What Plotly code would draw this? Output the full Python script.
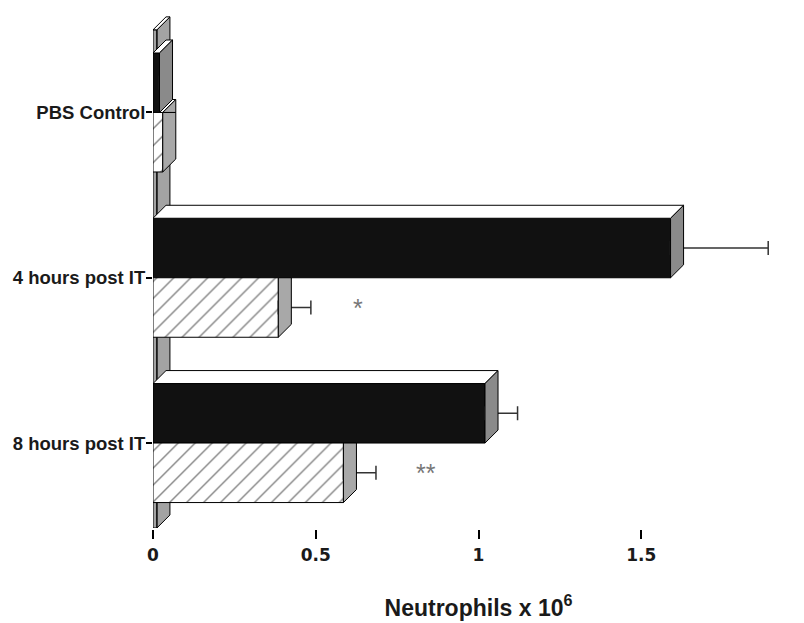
import plotly.graph_objects as go

# ---------------- data ----------------
categories = ["PBS Control", "4 hours post IT", "8 hours post IT"]
black_values = [0.02, 1.59, 1.02]
black_errors = [0.0, 0.30, 0.10]
hatched_values = [0.03, 0.385, 0.585]
hatched_errors = [0.0, 0.10, 0.10]
significance = ["", "*", "**"]
significance_x = [0.0, 0.63, 0.84]
x_ticks = [0, 0.5, 1, 1.5, 2]
x_tick_labels = ["0", "0.5", "1", "1.5", "2"]
x_title = "Neutrophils x 10<sup>6</sup>"

# ---------------- geometry / style ----------------
BAR_W = 0.36          # bar thickness in category units
DX = 0.04             # 3D depth, x data units
DY = 0.0785           # 3D depth, category units
WALL_W = 0.012
Y_TOP = -0.5
Y_BOT = 2.514
FONT = "Liberation Sans, Arial, Helvetica, sans-serif"
SIDE_BLACK = "#8a8a8a"
SIDE_HATCH = "#a8a8a8"
WALL = "#a3a3a3"

pos = list(range(len(categories)))
black_y = [p - BAR_W / 2 for p in pos]
hatched_y = [p + BAR_W / 2 for p in pos]


def poly_trace(polys, fill, z, lw=1, line_color="black"):
    xs, ys = [], []
    for poly in polys:
        for (x, y) in poly:
            xs.append(x)
            ys.append(y)
        xs.append(poly[0][0])
        ys.append(poly[0][1])
        xs.append(None)
        ys.append(None)
    return go.Scatter(x=xs, y=ys, mode="lines", fill="toself", fillcolor=fill,
                      line=dict(color=line_color, width=lw), hoverinfo="skip",
                      showlegend=False, zorder=z)


fig = go.Figure()

# back wall along x = 0
fig.add_trace(poly_trace([
    [(0, Y_BOT), (0, Y_TOP), (WALL_W, Y_TOP), (WALL_W, Y_BOT)],
    [(WALL_W, Y_BOT), (WALL_W, Y_TOP), (WALL_W + DX, Y_TOP - DY), (WALL_W + DX, Y_BOT - DY)],
], WALL, 0))
fig.add_trace(poly_trace([
    [(0, Y_TOP), (WALL_W, Y_TOP), (WALL_W + DX, Y_TOP - DY), (DX, Y_TOP - DY)],
], "white", 0))

# hatched bars: top faces and upper part of side faces (behind black bars)
h_top, h_tri, h_low = [], [], []
for p, v in zip(pos, hatched_values):
    yb = p + BAR_W
    h_top.append([(0, p), (v, p), (v + DX, p - DY), (DX, p - DY)])
    h_tri.append([(v, p), (v + DX, p - DY), (v + DX, p)])
    h_low.append([(v, yb), (v, p), (v + DX, p), (v + DX, yb - DY)])
fig.add_trace(poly_trace(h_top, "white", 1))
fig.add_trace(poly_trace(h_tri, SIDE_HATCH, 1))

# black bars (front faces)
fig.add_trace(go.Bar(
    y=black_y, x=black_values, width=BAR_W, orientation="h",
    marker=dict(color="#111111", line=dict(color="black", width=1)),
    error_x=dict(type="data", array=black_errors, arrayminus=[0] * len(pos),
                 symmetric=False, color="#333333", thickness=1.5, width=7),
    showlegend=False, zorder=2, hoverinfo="skip"))

# black bars: top and side faces
b_top, b_side = [], []
for p, v in zip(pos, black_values):
    yt = p - BAR_W
    b_top.append([(0, yt), (v, yt), (v + DX, yt - DY), (DX, yt - DY)])
    b_side.append([(v, p), (v, yt), (v + DX, yt - DY), (v + DX, p - DY)])
fig.add_trace(poly_trace(b_top, "white", 3))
fig.add_trace(poly_trace(b_side, SIDE_BLACK, 3))

# hatched bars (front faces)
fig.add_trace(go.Bar(
    y=hatched_y, x=hatched_values, width=BAR_W, orientation="h",
    marker=dict(color="white", line=dict(color="black", width=1),
                pattern=dict(shape="/", size=12, solidity=0.12,
                             fgcolor="#111111", bgcolor="white")),
    error_x=dict(type="data", array=hatched_errors, arrayminus=[0] * len(pos),
                 symmetric=False, color="#333333", thickness=1.5, width=7),
    showlegend=False, zorder=4, hoverinfo="skip"))
fig.add_trace(poly_trace(h_low, SIDE_HATCH, 5))

# significance markers
for p, s, sx in zip(pos, significance, significance_x):
    if s:
        fig.add_annotation(x=sx, y=p + BAR_W / 2, text=s, showarrow=False,
                           xref="x", yref="y",
                           font=dict(family=FONT, size=25, color="#777777"))

# the page body has an 8px margin, so the figure is offset by 8px
fig.update_layout(
    width=804, height=623,
    margin=dict(l=145, r=8, t=2, b=103, autoexpand=False),
    plot_bgcolor="white", paper_bgcolor="white",
    barmode="overlay",
    showlegend=False,
    font=dict(family=FONT, color="#1a1a1a"),
)
fig.update_xaxes(
    range=[0, 2], tickvals=x_ticks, ticktext=x_tick_labels,
    automargin=False, ticklabeloverflow="allow",
    showgrid=False, zeroline=False,
    showline=True, linecolor="black", linewidth=2,
    ticks="outside", ticklen=9, tickwidth=1.5, tickcolor="black",
    ticklabelstandoff=2,
    tickfont=dict(family="DejaVu Sans, sans-serif", size=17, weight="bold", color="#1a1a1a"),
    title=dict(text=x_title, standoff=35,
               font=dict(family=FONT, size=23, weight="bold", color="#1a1a1a")),
)
fig.update_yaxes(
    range=[Y_BOT, -0.62], tickvals=pos, ticktext=categories,
    automargin=False,
    showgrid=False, zeroline=False, showline=False,
    ticks="outside", ticklen=6, tickwidth=1.5, tickcolor="black",
    ticklabelstandoff=-3,
    tickfont=dict(family=FONT, size=18.5, weight="bold", color="#1a1a1a"),
)

fig.write_html("out.html")
